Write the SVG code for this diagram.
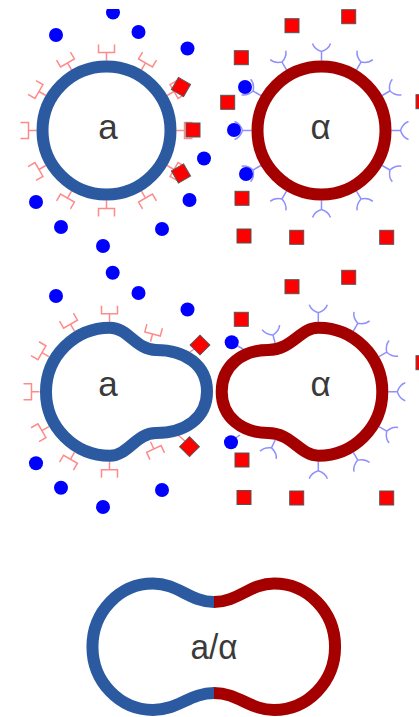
<svg xmlns="http://www.w3.org/2000/svg" width="419" height="717" viewBox="0 0 419 717">
  <style>
    .wall { fill: #fff; stroke-width: 12; }
    .wall-a { stroke: #2c5aa0; }
    .wall-alpha { stroke: #a40000; }
    .open { fill: none; stroke-width: 12; }
    .label { font-family: "Liberation Sans", Arial, sans-serif; font-size: 35px; fill: #3a3a3a; text-anchor: middle; }
    .dot { fill: #0000ff; }
    .sq { fill: #ff0000; stroke: #555; stroke-width: 1; }
    .rec-a { fill: none; stroke: #ff8a8a; stroke-width: 1.5; }
    .rec-alpha { fill: none; stroke: #8f8fff; stroke-width: 1.5; }
  </style>
  <defs>
    <!-- stem base sits on the origin, the receptor points up -->
    <path id="fork" class="rec-a" d="M0,0 V-8 M-8,-16 V-8 H8 V-16"/>
    <path id="yarm" class="rec-alpha" d="M0,0 V-9 M-9,-17 C-8,-14 -6,-11 0,-9 C6,-11 8,-14 9,-17"/>
    <rect id="lig" class="sq" x="-7" y="-7" width="14" height="14"/>
    <circle id="ball" class="dot" r="7"/>
    <clipPath id="topEdge"><rect x="0" y="9" width="419" height="708"/></clipPath>
  </defs>

  <g id="connectors">
    <!-- stems joining bound ligands to the walls in the middle row -->
    <path class="rec-a" d="M190,352 L197,347 M178,435 L186,442"/>
    <path class="rec-alpha" d="M243,349 L236,345 M240,435 L234,439"/>
  </g>

  <g id="receptors-a-top" transform="translate(106.5,130.5)">
    <use href="#fork" transform="rotate(0) translate(0,-70)"/>
    <use href="#fork" transform="rotate(30) translate(0,-70)"/>
    <use href="#fork" transform="rotate(60) translate(0,-70)"/>
    <use href="#fork" transform="rotate(90) translate(0,-70)"/>
    <use href="#fork" transform="rotate(120) translate(0,-70)"/>
    <use href="#fork" transform="rotate(150) translate(0,-70)"/>
    <use href="#fork" transform="rotate(180) translate(0,-70)"/>
    <use href="#fork" transform="rotate(210) translate(0,-70)"/>
    <use href="#fork" transform="rotate(240) translate(0,-70)"/>
    <use href="#fork" transform="rotate(270) translate(0,-70)"/>
    <use href="#fork" transform="rotate(300) translate(0,-70)"/>
    <use href="#fork" transform="rotate(330) translate(0,-70)"/>
  </g>
  <g id="receptors-alpha-top" transform="translate(321.5,130.5)">
    <use href="#yarm" transform="rotate(0) translate(0,-70)"/>
    <use href="#yarm" transform="rotate(30) translate(0,-70)"/>
    <use href="#yarm" transform="rotate(60) translate(0,-70)"/>
    <use href="#yarm" transform="rotate(90) translate(0,-70)"/>
    <use href="#yarm" transform="rotate(120) translate(0,-70)"/>
    <use href="#yarm" transform="rotate(150) translate(0,-70)"/>
    <use href="#yarm" transform="rotate(180) translate(0,-70)"/>
    <use href="#yarm" transform="rotate(210) translate(0,-70)"/>
    <use href="#yarm" transform="rotate(240) translate(0,-70)"/>
    <use href="#yarm" transform="rotate(270) translate(0,-70)"/>
    <use href="#yarm" transform="rotate(300) translate(0,-70)"/>
    <use href="#yarm" transform="rotate(330) translate(0,-70)"/>
  </g>
  <g id="receptors-a-mid" transform="translate(109.5,391.7)">
    <use href="#fork" transform="rotate(0) translate(0,-70)"/>
    <use href="#fork" transform="rotate(180) translate(0,-70)"/>
    <use href="#fork" transform="rotate(210) translate(0,-70)"/>
    <use href="#fork" transform="rotate(240) translate(0,-70)"/>
    <use href="#fork" transform="rotate(270) translate(0,-70)"/>
    <use href="#fork" transform="rotate(300) translate(0,-70)"/>
    <use href="#fork" transform="rotate(330) translate(0,-70)"/>
    <use href="#fork" transform="translate(41,-50) rotate(15)"/>
    <use href="#fork" transform="translate(41,50) rotate(155)"/>
  </g>
  <g id="receptors-alpha-mid" transform="translate(318.3,391.7)">
    <use href="#yarm" transform="rotate(0) translate(0,-70)"/>
    <use href="#yarm" transform="rotate(30) translate(0,-70)"/>
    <use href="#yarm" transform="rotate(60) translate(0,-70)"/>
    <use href="#yarm" transform="rotate(90) translate(0,-70)"/>
    <use href="#yarm" transform="rotate(120) translate(0,-70)"/>
    <use href="#yarm" transform="rotate(150) translate(0,-70)"/>
    <use href="#yarm" transform="rotate(180) translate(0,-70)"/>
    <use href="#yarm" transform="translate(-43,-48) rotate(-15)"/>
    <use href="#yarm" transform="translate(-43,48) rotate(-155)"/>
  </g>

  <g id="cell-a-top">
    <circle class="wall wall-a" cx="106.5" cy="130.5" r="64"/>
    <text class="label" x="108" y="139">a</text>
  </g>
  <g id="cell-alpha-top">
    <circle class="wall wall-alpha" cx="321.5" cy="130.5" r="64"/>
    <text class="label" x="320.5" y="139">α</text>
  </g>
  <g id="cell-a-mid">
    <path class="wall wall-a" d="M110,327.7 C128,327.7 136,350 156,350 C185,350 207,365 207,391.7 C207,418 185,433 156,433 C136,433 128,455.7 110,455.7 A64,64 0 0 1 110,327.7 Z"/>
    <text class="label" x="108" y="396">a</text>
  </g>
  <g id="cell-alpha-mid">
    <path class="wall wall-alpha" d="M318.3,327.7 C300,327.7 292,350 268,350 C243,350 221.7,365 221.7,391.7 C221.7,418 243,433 268,433 C292,433 300,455.7 318.3,455.7 A64,64 0 0 0 318.3,327.7 Z"/>
    <text class="label" x="320.5" y="396">α</text>
  </g>
  <g id="cell-fused">
    <path class="open wall-a" d="M214,602 C190,602 178,583.5 153,583.5 A60.5,63.2 0 0 0 153,710 C178,710 190,693 214,693"/>
    <path class="open wall-alpha" d="M214,602 C238,602 250,583.5 274,583.5 A61,63.2 0 0 1 274,710 C250,710 238,693 214,693"/>
    <text class="label" x="214" y="659" textLength="47" lengthAdjust="spacingAndGlyphs">a/α</text>
  </g>

  <g id="ligands-top">
    <circle class="dot" cx="113" cy="12.5" r="7" clip-path="url(#topEdge)"/>
    <use href="#ball" x="56" y="35"/><use href="#ball" x="138.5" y="32"/><use href="#ball" x="187.5" y="48.5"/>
    <use href="#ball" x="204" y="158.5"/><use href="#ball" x="36" y="202"/><use href="#ball" x="61" y="227"/>
    <use href="#ball" x="103" y="246"/><use href="#ball" x="162" y="229"/><use href="#ball" x="189.5" y="200"/>
    <use href="#ball" x="245" y="87"/><use href="#ball" x="234" y="130"/><use href="#ball" x="246" y="174"/>
    <use href="#lig" transform="translate(181,87) rotate(30)"/>
    <use href="#lig" x="193" y="130"/>
    <use href="#lig" transform="translate(181,173.5) rotate(-30)"/>
    <use href="#lig" x="292" y="25.7"/><use href="#lig" x="348.7" y="16.7"/><use href="#lig" x="241.3" y="57.7"/>
    <use href="#lig" x="227.7" y="102.3"/><use href="#lig" x="423" y="101.7"/><use href="#lig" x="242" y="198.3"/>
    <use href="#lig" x="244" y="236"/><use href="#lig" x="296.7" y="237.3"/><use href="#lig" x="386.7" y="237.3"/>
  </g>
  <g id="ligands-mid">
    <use href="#ball" x="112.7" y="272.7"/><use href="#ball" x="56" y="296"/><use href="#ball" x="138.5" y="293"/>
    <use href="#ball" x="187.5" y="309.5"/><use href="#ball" x="36" y="463.3"/><use href="#ball" x="61" y="487.7"/>
    <use href="#ball" x="103" y="507"/><use href="#ball" x="162" y="490"/>
    <use href="#ball" x="231.7" y="342.3"/><use href="#ball" x="231" y="442.3"/>
    <use href="#lig" transform="translate(200,345) rotate(45)"/>
    <use href="#lig" transform="translate(189.5,446.7) rotate(-45)"/>
    <use href="#lig" x="292" y="286.7"/><use href="#lig" x="348.7" y="277.3"/><use href="#lig" x="241.3" y="319.3"/>
    <use href="#lig" x="423" y="362.7"/><use href="#lig" x="242" y="460"/>
    <use href="#lig" x="244" y="497.5"/><use href="#lig" x="296.7" y="498"/><use href="#lig" x="386.7" y="498"/>
  </g>
</svg>
